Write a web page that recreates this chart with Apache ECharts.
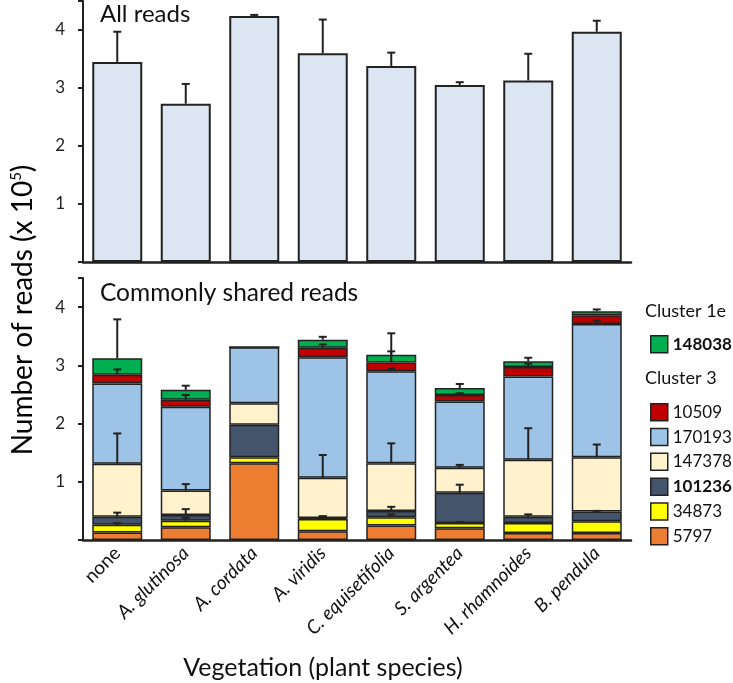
<!DOCTYPE html>
<html>
<head>
<meta charset="utf-8">
<script src="https://cdn.jsdelivr.net/npm/echarts@6/dist/echarts.min.js"></script>
<style>
  html, body { margin: 0; padding: 0; background: #fff; }
  #chart { width: 733px; height: 683px; }
</style>
</head>
<body>
<div id="chart"></div>
<script>
// plant species on the x axis
const categories = ['none', 'A. glutinosa', 'A. cordata', 'A. viridis',
  'C. equisetifolia', 'S. argentea', 'H. rhamnoides', 'B. pendula']

// top panel: all reads (x 10^5) and upper error
const allReads = [3.45, 2.73, 4.24, 3.60, 3.38, 3.05, 3.13, 3.97]
const allReadsErr = [0.52, 0.34, 0.02, 0.58, 0.23, 0.05, 0.46, 0.19]

// bottom panel: commonly shared reads per OTU, stacked bottom -> top
const otu5797 = [0.13, 0.22, 1.32, 0.15, 0.25, 0.20, 0.12, 0.12]
const otu34873 = [0.13, 0.11, 0.10, 0.21, 0.14, 0.09, 0.17, 0.20]
const otu101236 = [0.14, 0.10, 0.56, 0.02, 0.11, 0.52, 0.11, 0.17]
const otu147378 = [0.91, 0.42, 0.37, 0.69, 0.82, 0.43, 0.98, 0.93]
const otu170193 = [1.38, 1.44, 0.96, 2.07, 1.58, 1.14, 1.43, 2.29]
const otu10509 = [0.15, 0.12, 0, 0.16, 0.15, 0.11, 0.16, 0.15]
const otu148038 = [0.28, 0.17, 0, 0.14, 0.13, 0.12, 0.10, 0.07]

// upper errors of each stacked segment
const err5797 = [0, 0, 0, 0, 0, 0, 0, 0]
const err34873 = [0.03, 0.05, 0, 0.04, 0.05, 0.02, 0, 0]
const err101236 = [0.07, 0.10, 0, 0.03, 0.07, 0.14, 0.04, 0.01]
const err147378 = [0.52, 0.11, 0, 0.39, 0.34, 0.05, 0.54, 0.22]
const err170193 = [0, 0, 0, 0, 0.04, 0, 0, 0.06]
const err10509 = [0.09, 0.08, 0, 0.06, 0.19, 0.03, 0.06, 0]
const err148038 = [0.67, 0.07, 0, 0.05, 0.37, 0.07, 0.06, 0.03]

const yTicks = [0, 1, 2, 3, 4]

const FONT = 'Lato'
const INK = '#222'

const stackDefs = [
  { name: '5797', data: otu5797, err: err5797, color: '#ed7d31' },
  { name: '34873', data: otu34873, err: err34873, color: '#ffff00' },
  { name: '101236', data: otu101236, err: err101236, color: '#44546a' },
  { name: '147378', data: otu147378, err: err147378, color: '#fff2cc' },
  { name: '170193', data: otu170193, err: err170193, color: '#9dc3e6' },
  { name: '10509', data: otu10509, err: err10509, color: '#c00000' },
  { name: '148038', data: otu148038, err: err148038, color: '#00b050' },
]

// error bar points [cat, from, to] built from the stacked values
const stackErrPoints = []
const running = categories.map(() => 0)
stackDefs.forEach((s) => {
  s.data.forEach((v, i) => {
    running[i] += v
    if (s.err[i] > 0) stackErrPoints.push([i, running[i], running[i] + s.err[i]])
  })
})
const topErrPoints = allReads.map((v, i) => [i, v, v + allReadsErr[i]])

function renderErr(params, api) {
  const p0 = api.coord([api.value(0), api.value(1)])
  const p1 = api.coord([api.value(0), api.value(2)])
  const st = { stroke: INK, lineWidth: 2 }
  return {
    type: 'group',
    children: [
      { type: 'line', shape: { x1: p0[0], y1: p0[1], x2: p1[0], y2: p1[1] }, style: st },
      { type: 'line', shape: { x1: p1[0] - 4, y1: p1[1], x2: p1[0] + 4, y2: p1[1] }, style: st },
    ],
  }
}

const yAxisBase = {
  type: 'value', min: 0, max: 4.5, interval: 1,
  axisLine: { show: true, lineStyle: { color: INK, width: 2 } },
  axisTick: { show: true, length: 5, lineStyle: { color: INK, width: 2 } },
  axisLabel: {
    fontFamily: FONT, fontSize: 17, color: '#222', margin: 18,
    formatter: (v) => (yTicks.includes(v) && v > 0 ? String(v) : ''),
  },
  splitLine: { show: false },
}

const catData = categories.map((c) => ({
  value: c,
  textStyle: { fontStyle: c === 'none' ? 'normal' : 'italic' },
}))

const xAxisBase = {
  type: 'category', data: catData,
  axisLine: { show: true, lineStyle: { color: INK, width: 2.5 } },
  axisTick: { show: false },
}

const legendText = {
  fontFamily: FONT, fontSize: 17, color: '#111',
  rich: {
    n: { fontFamily: FONT, fontSize: 17, color: '#111' },
    b: { fontFamily: FONT, fontSize: 17, color: '#111', fontWeight: 'bold' },
  },
}
const legendFmt = (name) => (name === '148038' || name === '101236' ? '{b|' + name + '}' : '{n|' + name + '}')

const option = {
  animation: false,
  backgroundColor: '#fff',
  grid: [
    { left: 83, right: 102, top: 1, height: 261 },
    { left: 83, right: 102, top: 278, height: 262 },
  ],
  xAxis: [
    Object.assign({ gridIndex: 0, axisLabel: { show: false } }, xAxisBase),
    Object.assign({
      gridIndex: 1,
      axisLabel: { rotate: 45, fontFamily: FONT, fontSize: 19, color: '#111', margin: 10, interval: 0 },
    }, xAxisBase),
  ],
  yAxis: [
    Object.assign({ gridIndex: 0 }, yAxisBase),
    Object.assign({ gridIndex: 1 }, yAxisBase),
  ],
  legend: [
    {
      data: ['148038'], orient: 'vertical', left: 645, top: 330,
      itemWidth: 17, itemHeight: 17, itemGap: 6, selectedMode: false,
      icon: 'rect', itemStyle: { borderColor: INK, borderWidth: 1.5 },
      textStyle: legendText, formatter: legendFmt,
    },
    {
      data: ['10509', '170193', '147378', '101236', '34873', '5797'],
      orient: 'vertical', left: 645, top: 398,
      itemWidth: 17, itemHeight: 17, itemGap: 6.3, selectedMode: false,
      icon: 'rect', itemStyle: { borderColor: INK, borderWidth: 1.5 },
      textStyle: legendText, formatter: legendFmt,
    },
  ],
  graphic: [
    { type: 'text', left: 100, top: 2, style: { text: 'All reads', font: '24px ' + FONT, fill: '#111' } },
    { type: 'text', left: 100, top: 281, style: { text: 'Commonly shared reads', font: '24.5px ' + FONT, fill: '#111' } },
    { type: 'text', left: 645, top: 302, style: { text: 'Cluster 1e', font: '18px ' + FONT, fill: '#111' } },
    { type: 'text', left: 645, top: 369, style: { text: 'Cluster 3', font: '18px ' + FONT, fill: '#111' } },
    {
      type: 'text', x: 23, y: 310, rotation: Math.PI / 2,
      style: {
        text: '{m|Number of reads (x 10}{s|5}{m|)}',
        align: 'center', verticalAlign: 'middle',
        rich: {
          m: { fontFamily: FONT, fontSize: 28, color: '#111' },
          s: { fontFamily: FONT, fontSize: 15, color: '#111', verticalAlign: 'top', padding: [0, 0, 14, 0] },
        },
      },
    },
    {
      type: 'text', x: 323, y: 668,
      style: { text: 'Vegetation (plant species)', font: '25px ' + FONT, fill: '#111', align: 'center', verticalAlign: 'middle' },
    },
  ],
  series: [
    {
      type: 'bar', xAxisIndex: 0, yAxisIndex: 0, data: allReads, barWidth: 50,
      itemStyle: { color: '#dce6f2', borderColor: INK, borderWidth: 2 },
    },
    {
      type: 'custom', xAxisIndex: 0, yAxisIndex: 0, data: topErrPoints,
      renderItem: renderErr, encode: { x: 0, y: [1, 2] }, z: 5,
    },
  ].concat(stackDefs.map((s) => ({
    type: 'bar', name: s.name, stack: 'shared', xAxisIndex: 1, yAxisIndex: 1,
    data: s.data, barWidth: 50,
    itemStyle: { color: s.color, borderColor: INK, borderWidth: 1.5 },
  }))).concat([
    {
      type: 'custom', xAxisIndex: 1, yAxisIndex: 1, data: stackErrPoints,
      renderItem: renderErr, encode: { x: 0, y: [1, 2] }, z: 5,
    },
  ]),
}

const chart = echarts.init(document.getElementById('chart'))
chart.setOption(option)
</script>
</body>
</html>
